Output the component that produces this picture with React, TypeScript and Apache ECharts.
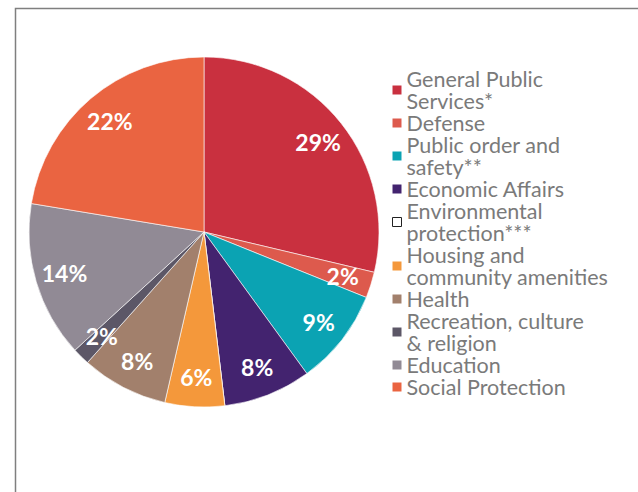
import React, { useEffect, useRef } from "react";
import * as echarts from "echarts";

const categories = [
  "General Public\nServices*",
  "Defense",
  "Public order and\nsafety**",
  "Economic Affairs",
  "Environmental\nprotection***",
  "Housing and\ncommunity amenities",
  "Health",
  "Recreation, culture\n& religion",
  "Education",
  "Social Protection",
];
const shares = [28.7, 2.4, 8.9, 8.1, 0, 5.5, 8.0, 1.6, 14.4, 22.4];
const colors = [
  "#C9303F",
  "#DD5A4D",
  "#0BA3B3",
  "#43236F",
  "#FFFFFF",
  "#F4983B",
  "#A2806C",
  "#5C5767",
  "#918A95",
  "#EA6441",
];

export default function App() {
  const ref = useRef<HTMLDivElement>(null);
  useEffect(() => {
    if (!ref.current) return;
    const chart = echarts.init(ref.current, undefined, { renderer: "svg" });
    const pieData = categories.map((name, i) => ({
      name,
      value: shares[i],
      itemStyle: { color: colors[i] },
    }));
    const labelData = categories.map((name, i) => ({
      name,
      value: shares[i],
      label: { show: shares[i] > 0 },
    }));
    chart.setOption({
      animation: false,
      backgroundColor: "#FFFFFF",
      graphic: [
        {
          type: "rect",
          left: 13,
          top: 6,
          shape: { width: 624, height: 500 },
          style: { fill: "none", stroke: "#7F7F7F", lineWidth: 1.5 },
          silent: true,
        },
      ],
      legend: {
        orient: "vertical",
        left: 392,
        top: 68,
        padding: 0,
        itemGap: 0,
        itemWidth: 9,
        itemHeight: 9,
        icon: "rect",
        selectedMode: false,
        itemStyle: { borderWidth: 0 },
        textStyle: {
          fontFamily: "Lato",
          fontSize: 21.5,
          color: "#7A7A7A",
          lineHeight: 22,
        },
        data: categories.map((name, i) =>
          shares[i] === 0
            ? {
                name,
                itemStyle: { color: "#FFFFFF", borderColor: "#222222", borderWidth: 1 },
              }
            : { name }
        ),
      },
      series: [
        {
          type: "pie",
          center: [204, 232],
          radius: [0, 175],
          startAngle: 90,
          clockwise: true,
          silent: true,
          label: { show: false },
          labelLine: { show: false },
          itemStyle: { borderColor: "#FFFFFF", borderWidth: 0.6 },
          data: pieData,
        },
        {
          type: "pie",
          center: [204, 232],
          radius: [110, 175],
          startAngle: 90,
          clockwise: true,
          silent: true,
          itemStyle: { color: "rgba(0,0,0,0)" },
          labelLine: { show: false },
          label: {
            show: true,
            position: "inside",
            color: "#FFFFFF",
            fontFamily: "Lato",
            fontWeight: "bold",
            fontSize: 23,
            formatter: (p: any) => Math.round(p.value) + "%",
          },
          data: labelData,
        },
      ],
    });
    return () => chart.dispose();
  }, []);
  return (
    <div
      ref={ref}
      style={{ position: "fixed", left: 0, top: 0, width: 638, height: 492 }}
    />
  );
}
